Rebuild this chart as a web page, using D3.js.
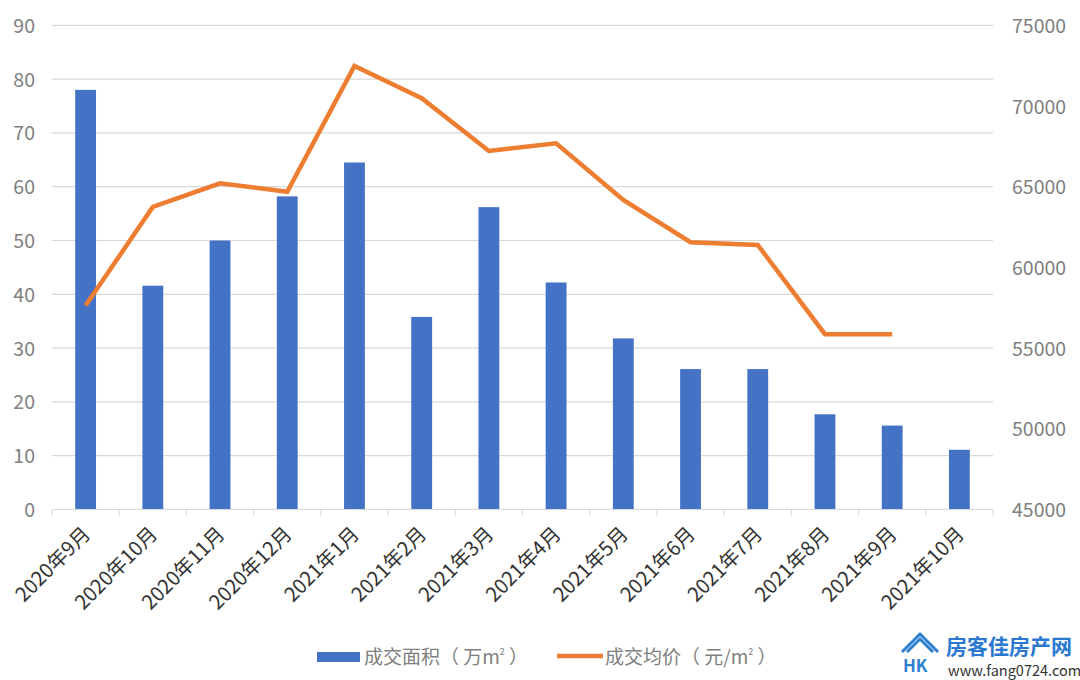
<!DOCTYPE html>
<html><head><meta charset="utf-8">
<script src="https://cdn.jsdelivr.net/npm/d3@7/dist/d3.min.js"></script>
<style>
body{margin:0;background:#fff;}
svg text{font-family:"Noto Sans CJK SC","Noto Sans",sans-serif;}
</style></head>
<body><svg id="c" width="1080" height="680"></svg>
<script>
const categories = ["2020年9月","2020年10月","2020年11月","2020年12月","2021年1月","2021年2月","2021年3月","2021年4月","2021年5月","2021年6月","2021年7月","2021年8月","2021年9月","2021年10月"];
const areaValues = [78.0, 41.6, 50.0, 58.2, 64.5, 35.8, 56.2, 42.2, 31.8, 26.1, 26.1, 17.7, 15.6, 11.1];
const priceValues = [57640, 63750, 65210, 64690, 72480, 70480, 67210, 67690, 64180, 61560, 61390, 55860, 55860, null];
const leftTicks = [0,10,20,30,40,50,60,70,80,90];
const rightTicks = [45000,50000,55000,60000,65000,70000,75000];
const seriesNames = ["成交面积（ 万m", "成交均价（ 元/m"];

const svg = d3.select("#c");
const L = 52, R = 993, T = 25.3, B = 509.5;
const x = d3.scaleBand().domain(categories).range([L, R]).paddingInner(0.69).paddingOuter(0.345);
const xb = d3.scaleBand().domain(categories).range([L, R]);
const yL = d3.scaleLinear().domain([0, 90]).range([B, T]);
const yR = d3.scaleLinear().domain([45000, 75000]).range([B, T]);
const gray = "#808080";

// gridlines
svg.append("g").selectAll("line").data(leftTicks.filter(d => d > 0)).join("line")
  .attr("x1", L).attr("x2", R).attr("y1", d => yL(d)).attr("y2", d => yL(d))
  .attr("stroke", "#d9d9d9").attr("stroke-width", 1.2);

// left axis labels
const gl = svg.append("g").attr("transform", `translate(${L - 17},0)`)
  .call(d3.axisLeft(yL).tickValues(leftTicks).tickSize(0).tickPadding(0));
gl.select(".domain").remove();
gl.selectAll("text").attr("font-size", 19.5).attr("fill", gray).attr("dy", "0.36em");

// right axis labels
const gr = svg.append("g").attr("transform", `translate(${R + 19},0)`)
  .call(d3.axisRight(yR).tickValues(rightTicks).tickSize(0).tickPadding(0).tickFormat(d3.format("d")));
gr.select(".domain").remove();
gr.selectAll("text").attr("font-size", 19.5).attr("fill", gray).attr("dy", "0.36em");

// bars
svg.append("g").selectAll("rect").data(areaValues).join("rect")
  .attr("x", (d, i) => x(categories[i])).attr("width", x.bandwidth())
  .attr("y", d => yL(d)).attr("height", d => yL(0) - yL(d))
  .attr("fill", "#4472C4");

// x axis baseline and ticks
svg.append("line").attr("x1", L).attr("x2", R).attr("y1", B).attr("y2", B)
  .attr("stroke", "#d9d9d9").attr("stroke-width", 1.2);
svg.append("g").selectAll("line").data(categories.concat(["_end"])).join("line")
  .attr("x1", (d, i) => L + i * xb.bandwidth()).attr("x2", (d, i) => L + i * xb.bandwidth())
  .attr("y1", B).attr("y2", B + 6).attr("stroke", "#d9d9d9").attr("stroke-width", 1.2);

// x labels
svg.append("g").selectAll("text").data(categories).join("text")
  .attr("transform", d => `translate(${xb(d) + xb.bandwidth() / 2 + 1},${B + 21}) rotate(-45)`)
  .attr("text-anchor", "end").attr("dy", "0.35em")
  .attr("font-size", 20).attr("fill", "#333").text(d => d);

// line
const line = d3.line().defined(d => d != null)
  .x((d, i) => xb(categories[i]) + xb.bandwidth() / 2).y(d => yR(d));
svg.append("path").datum(priceValues).attr("d", line)
  .attr("fill", "none").attr("stroke", "#ED7D31").attr("stroke-width", 4.5)
  .attr("stroke-linejoin", "miter");

// legend
const lg = svg.append("g");
lg.append("rect").attr("x", 317).attr("y", 652).attr("width", 43).attr("height", 10).attr("fill", "#4472C4");
function legText(xp, s) {
  const t = lg.append("text").attr("x", xp).attr("y", 664).attr("font-size", 19).attr("fill", gray);
  t.append("tspan").text(s);
  t.append("tspan").attr("font-size", 9).attr("dy", -9).text("2");
  t.append("tspan").attr("dy", 9).text(" ）");
}
legText(364, seriesNames[0]);
lg.append("line").attr("x1", 557).attr("x2", 603).attr("y1", 656).attr("y2", 656)
  .attr("stroke", "#ED7D31").attr("stroke-width", 4.5);
legText(605, seriesNames[1]);

// watermark
const wm = svg.append("g");
wm.append("path").attr("d", "M902,652 L920,634 L938,652 M907,652 L920,639 L933,652")
  .attr("fill", "none").attr("stroke", "#2f7fcf").attr("stroke-width", 3).attr("stroke-linejoin", "miter");
wm.append("text").attr("x", 903).attr("y", 672).attr("font-size", 17).attr("font-weight", "bold")
  .attr("fill", "#2f7fcf").attr("font-family", "DejaVu Sans").text("HK");
wm.append("text").attr("x", 946).attr("y", 654).attr("font-size", 21).attr("font-weight", "bold")
  .attr("fill", "#2a78d0").text("房客佳房产网");
wm.append("text").attr("x", 948).attr("y", 676).attr("font-size", 14.5)
  .attr("fill", "#333").attr("font-family", "Noto Sans").text("www.fang0724.com");
</script></body></html>
